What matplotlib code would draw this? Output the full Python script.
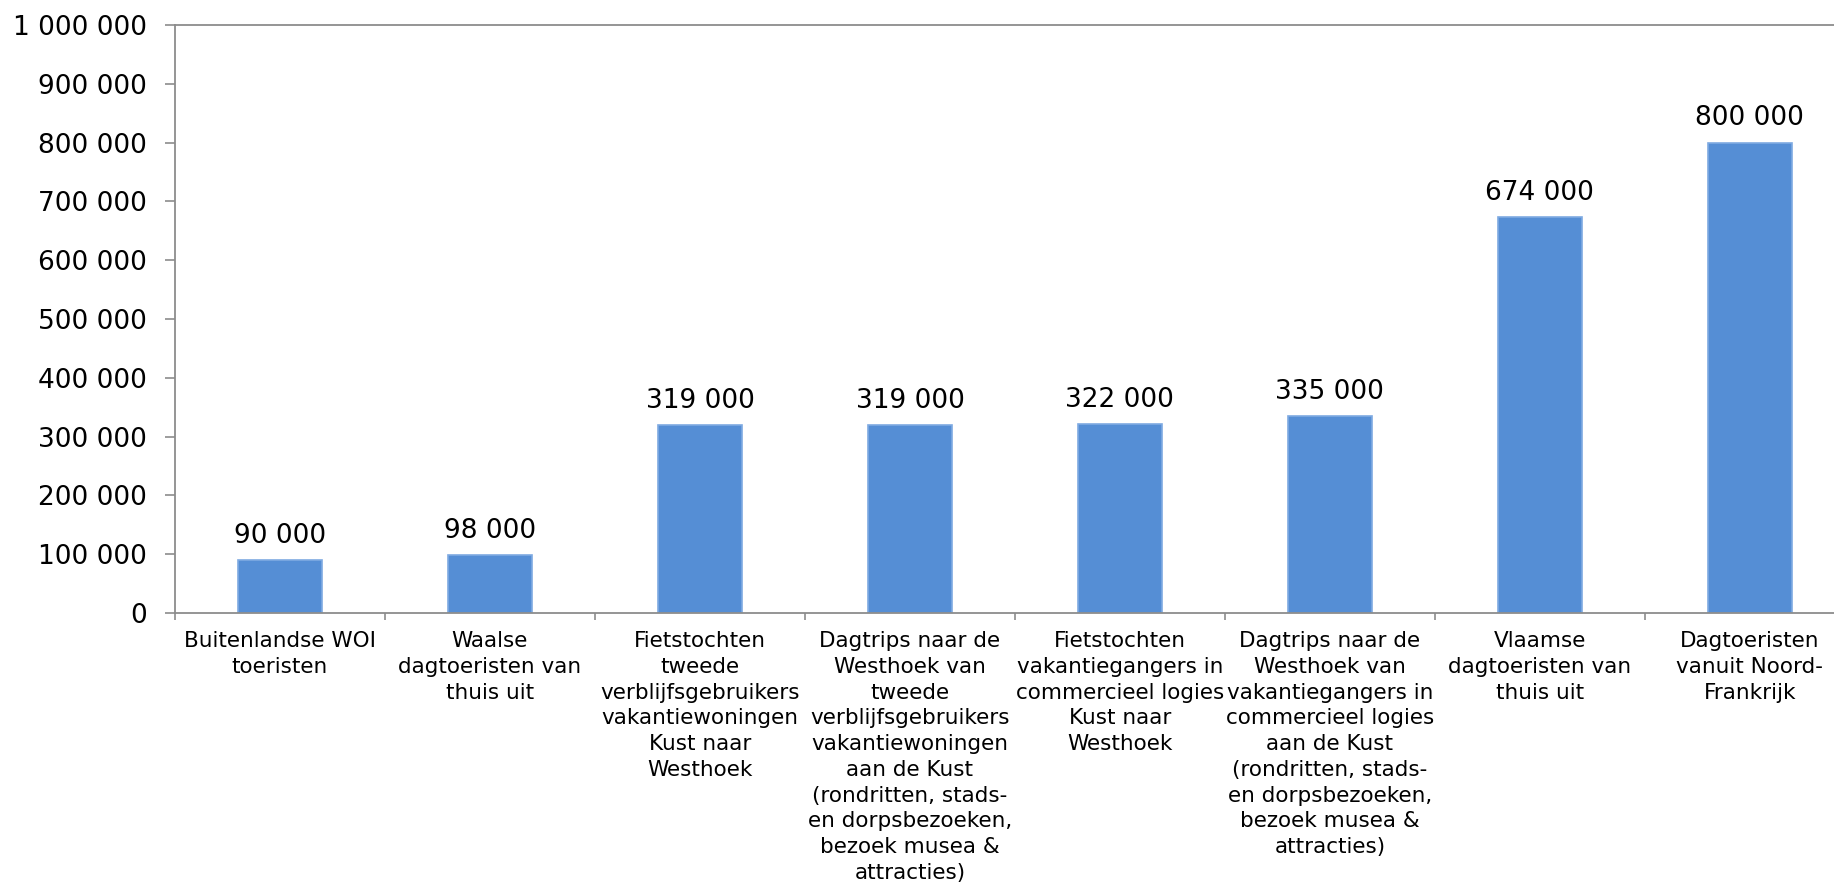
import matplotlib.pyplot as plt
from matplotlib.ticker import FuncFormatter, FixedLocator

categories = [
    "Buitenlandse WOI\ntoeristen",
    "Waalse\ndagtoeristen van\nthuis uit",
    "Fietstochten\ntweede\nverblijfsgebruikers\nvakantiewoningen\nKust naar\nWesthoek",
    "Dagtrips naar de\nWesthoek van\ntweede\nverblijfsgebruikers\nvakantiewoningen\naan de Kust\n(rondritten, stads-\nen dorpsbezoeken,\nbezoek musea &\nattracties)",
    "Fietstochten\nvakantiegangers in\ncommercieel logies\nKust naar\nWesthoek",
    "Dagtrips naar de\nWesthoek van\nvakantiegangers in\ncommercieel logies\naan de Kust\n(rondritten, stads-\nen dorpsbezoeken,\nbezoek musea &\nattracties)",
    "Vlaamse\ndagtoeristen van\nthuis uit",
    "Dagtoeristen\nvanuit Noord-\nFrankrijk",
]
bezoekers = [90000, 98000, 319000, 319000, 322000, 335000, 674000, 800000]
y_ticks = list(range(0, 1000001, 100000))

GRIJS = "#8c8c8c"


def spatie_duizend(v, _pos=None):
    return f"{int(v):,}".replace(",", " ")


plt.rcParams["font.family"] = ["DejaVu Sans"]

fig = plt.figure(figsize=(18.34, 8.85), dpi=100)
# plot area runs slightly past the right edge of the canvas
ax = fig.add_axes([0.0954, 0.3073, 0.916, 0.6645])

x = list(range(len(categories)))
bars = ax.bar(x, bezoekers, width=0.4, color="#558ED5",
              edgecolor="#7FAAE2", linewidth=1.2, zorder=2)
ax.bar_label(bars, labels=[spatie_duizend(v) for v in bezoekers],
             padding=8, fontsize=19, color="black")

ax.set_xlim(-0.5, len(categories) - 0.5)
ax.set_ylim(0, 1000000)
ax.yaxis.set_major_locator(FixedLocator(y_ticks))
ax.yaxis.set_major_formatter(FuncFormatter(spatie_duizend))

ax.set_xticks(x)
ax.set_xticklabels(categories, fontsize=15.5, linespacing=1.36,
                   va="top", ha="center")
ax.set_xticks([i - 0.5 for i in range(len(categories) + 1)], minor=True)
ax.tick_params(axis="x", which="major", length=0, pad=13)
ax.tick_params(axis="x", which="minor", length=5, width=1.2,
               color=GRIJS, direction="out")
ax.tick_params(axis="y", length=7, width=1.2, color=GRIJS,
               labelsize=19, pad=13)

for side in ("left", "bottom", "top"):
    ax.spines[side].set_color(GRIJS)
    ax.spines[side].set_linewidth(1.3)
ax.spines["right"].set_visible(False)

fig.savefig("out.png", dpi=100, facecolor="white")
plt.close(fig)
